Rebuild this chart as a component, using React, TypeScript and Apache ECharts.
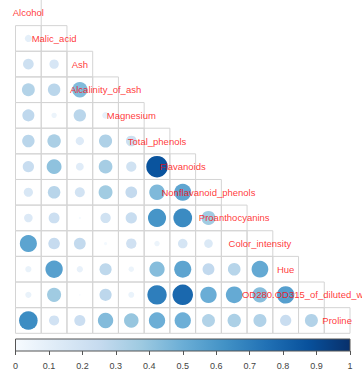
import React, { useEffect, useRef } from "react";
import * as echarts from "echarts";

const variables = [
  "Alcohol",
  "Malic_acid",
  "Ash",
  "Alcalinity_of_ash",
  "Magnesium",
  "Total_phenols",
  "Flavanoids",
  "Nonflavanoid_phenols",
  "Proanthocyanins",
  "Color_intensity",
  "Hue",
  "OD280.OD315_of_diluted_wines",
  "Proline",
];

// absolute correlations, lower triangle (row i, columns 0..i-1)
const rowMalic = [0.094];
const rowAsh = [0.212, 0.164];
const rowAlcalinity = [0.31, 0.289, 0.443];
const rowMagnesium = [0.271, 0.055, 0.287, 0.083];
const rowPhenols = [0.289, 0.335, 0.129, 0.321, 0.214];
const rowFlavanoids = [0.237, 0.411, 0.115, 0.351, 0.196, 0.865];
const rowNonflav = [0.156, 0.293, 0.186, 0.362, 0.256, 0.45, 0.538];
const rowProanth = [0.137, 0.221, 0.01, 0.197, 0.237, 0.612, 0.653, 0.366];
const rowColor = [0.546, 0.249, 0.259, 0.019, 0.2, 0.055, 0.172, 0.139, 0.025];
const rowHue = [0.072, 0.561, 0.075, 0.274, 0.055, 0.434, 0.543, 0.263, 0.296, 0.522];
const rowOD = [0.072, 0.369, 0.004, 0.277, 0.066, 0.7, 0.787, 0.503, 0.519, 0.429, 0.565];
const rowProline = [0.644, 0.192, 0.224, 0.441, 0.393, 0.498, 0.494, 0.311, 0.33, 0.316, 0.236, 0.313];

const lowerRows: number[][] = [
  [],
  rowMalic,
  rowAsh,
  rowAlcalinity,
  rowMagnesium,
  rowPhenols,
  rowFlavanoids,
  rowNonflav,
  rowProanth,
  rowColor,
  rowHue,
  rowOD,
  rowProline,
];

const colorbarTicks = [0, 0.1, 0.2, 0.3, 0.4, 0.5, 0.6, 0.7, 0.8, 0.9, 1];

const blues = [
  "#F7FBFF",
  "#DEEBF7",
  "#C6DBEF",
  "#9ECAE1",
  "#6BAED6",
  "#4292C6",
  "#2171B5",
  "#08519C",
  "#08306B",
];

export default function App() {
  const ref = useRef<HTMLDivElement>(null);
  useEffect(() => {
    if (!ref.current) return;
    const chart = echarts.init(ref.current, undefined, { renderer: "svg" });
    const n = variables.length;
    const left = 15.5;
    const top = -1.2;
    const size = 334.5;
    const cell = size / n;

    const points: number[][] = [];
    lowerRows.forEach((row, i) => {
      row.forEach((v, j) => points.push([j, i, v]));
    });
    const cells: number[][] = [];
    for (let i = 0; i < n; i++) for (let j = 0; j <= i; j++) cells.push([j, i]);
    const diag = variables.map((name, i) => ({ name, value: [i, i] }));

    chart.setOption({
      animation: false,
      grid: [
        { left, top, width: size, height: size },
        { left, top: 339, width: size, height: 12 },
      ],
      xAxis: [
        { type: "value", min: -0.5, max: n - 0.5, show: false, gridIndex: 0 },
        {
          type: "value",
          gridIndex: 1,
          min: 0,
          max: 1,
          interval: 0.1,
          position: "bottom",
          axisLine: { show: false },
          splitLine: { show: false },
          axisTick: { show: true, length: 4, lineStyle: { color: "#555", width: 1 } },
          axisLabel: {
            margin: 10,
            fontSize: 9,
            color: "#444",
            fontFamily: "Liberation Sans",
            formatter: (v: number) => {
              const t = colorbarTicks.find((c) => Math.abs(c - v) < 1e-6);
              return t === undefined ? "" : String(t);
            },
          },
        },
      ],
      yAxis: [
        { type: "value", min: -0.5, max: n - 0.5, inverse: true, show: false, gridIndex: 0 },
        { type: "value", min: 0, max: 1, show: false, gridIndex: 1 },
      ],
      visualMap: {
        show: false,
        type: "continuous",
        min: 0,
        max: 1,
        dimension: 2,
        seriesIndex: 1,
        inRange: { color: blues },
      },
      series: [
        {
          type: "custom",
          xAxisIndex: 0,
          yAxisIndex: 0,
          data: cells,
          z: 1,
          silent: true,
          renderItem: (params: any, api: any) => {
            const x = api.value(0);
            const y = api.value(1);
            const p = api.coord([x, y]);
            const s = api.size([1, 1]);
            const style = { stroke: "#D4D4D4", lineWidth: 1, fill: null };
            if (x === 0 && y === 0) {
              return {
                type: "line",
                shape: { x1: p[0] + s[0] / 2, y1: p[1] - s[1] / 2, x2: p[0] + s[0] / 2, y2: p[1] + s[1] / 2 },
                style,
              };
            }
            return {
              type: "rect",
              shape: { x: p[0] - s[0] / 2, y: p[1] - s[1] / 2, width: s[0], height: s[1] },
              style,
            };
          },
        },
        {
          type: "scatter",
          xAxisIndex: 0,
          yAxisIndex: 0,
          data: points,
          z: 2,
          symbol: "circle",
          symbolSize: (val: number[]) => Math.sqrt(val[2]) * cell * 0.9,
          itemStyle: { opacity: 1 },
        },
        {
          type: "scatter",
          xAxisIndex: 0,
          yAxisIndex: 0,
          data: diag,
          z: 3,
          symbolSize: 0,
          label: {
            show: true,
            position: "inside",
            formatter: (p: any) => p.name,
            color: "#FF0000",
            fontSize: 9.5,
            fontFamily: "Liberation Sans",
          },
        },
        {
          type: "custom",
          xAxisIndex: 1,
          yAxisIndex: 1,
          data: [[0, 1, 1, 0]],
          z: 1,
          silent: true,
          renderItem: (params: any, api: any) => {
            const p0 = api.coord([api.value(0), api.value(1)]);
            const p1 = api.coord([api.value(2), api.value(3)]);
            return {
              type: "rect",
              shape: { x: p0[0], y: p0[1], width: p1[0] - p0[0], height: p1[1] - p0[1] },
              style: {
                fill: new echarts.graphic.LinearGradient(
                  0,
                  0,
                  1,
                  0,
                  blues.map((c, k) => ({ offset: k / (blues.length - 1), color: c }))
                ),
                stroke: "#555",
                lineWidth: 1,
              },
            };
          },
        },
      ],
    });
    return () => chart.dispose();
  }, []);
  return (
    <div
      ref={ref}
      style={{ position: "fixed", left: 0, top: 0, width: 362, height: 376, background: "#fff" }}
    />
  );
}
